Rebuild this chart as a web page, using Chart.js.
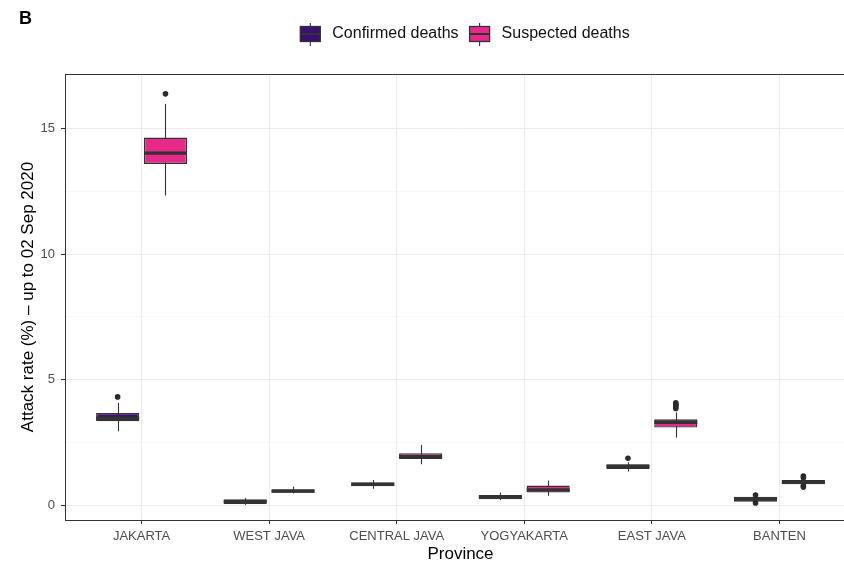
<!DOCTYPE html>
<html>
<head>
<meta charset="utf-8">
<script src="https://cdn.jsdelivr.net/npm/chart.js@4/dist/chart.umd.min.js"></script>
<style>
  html, body { margin: 0; padding: 0; background: #fff; overflow: hidden; width: 844px; height: 562px; }
  #wrap { position: relative; width: 860px; height: 562px; }
</style>
</head>
<body>
<div id="wrap"><canvas id="c" width="860" height="562"></canvas></div>
<script>
// Provinces along the x axis
const PROVINCES = ['JAKARTA', 'WEST JAVA', 'CENTRAL JAVA', 'YOGYAKARTA', 'EAST JAVA', 'BANTEN'];
const SERIES_NAMES = ['Confirmed deaths', 'Suspected deaths'];

// Confirmed deaths: attack-rate box summaries (%)
const CONFIRMED_WHISKER_LOW  = [2.95, 0.02, 0.66, 0.21, 1.35, 0.13];
const CONFIRMED_Q1           = [3.35, 0.06, 0.76, 0.25, 1.45, 0.15];
const CONFIRMED_MEDIAN       = [3.47, 0.15, 0.84, 0.33, 1.55, 0.25];
const CONFIRMED_Q3           = [3.68, 0.25, 0.91, 0.41, 1.64, 0.35];
const CONFIRMED_WHISKER_HIGH = [4.08, 0.29, 1.01, 0.51, 1.72, 0.36];
const CONFIRMED_OUTLIERS     = [[4.32], [], [], [], [1.88], [0.41, 0.10]];

// Suspected deaths: attack-rate box summaries (%)
const SUSPECTED_WHISKER_LOW  = [12.33, 0.48, 1.64, 0.38, 2.70, 0.80];
const SUSPECTED_Q1           = [13.59, 0.50, 1.85, 0.51, 3.10, 0.84];
const SUSPECTED_MEDIAN       = [14.02, 0.57, 1.95, 0.62, 3.31, 0.92];
const SUSPECTED_Q3           = [14.64, 0.64, 2.08, 0.79, 3.43, 1.01];
const SUSPECTED_WHISKER_HIGH = [15.98, 0.75, 2.41, 0.99, 3.70, 1.05];
const SUSPECTED_OUTLIERS     = [[16.38], [], [], [], [4.08, 4.03, 3.98, 3.92, 3.86], [1.17, 1.10, 0.78, 0.73]];

// Axis ticks
const Y_TICKS = [0, 5, 10, 15];
const Y_MINOR = [2.5, 7.5, 12.5];

const CONFIRMED_COLOR = '#3B0F70';
const SUSPECTED_COLOR = '#E7298A';
const INK = '#333333';
const FONT = '"Liberation Sans", Arial, Helvetica, sans-serif';

Chart.defaults.font.family = FONT;

const SUMMARIES = [
  { low: CONFIRMED_WHISKER_LOW, med: CONFIRMED_MEDIAN, high: CONFIRMED_WHISKER_HIGH, out: CONFIRMED_OUTLIERS },
  { low: SUSPECTED_WHISKER_LOW, med: SUSPECTED_MEDIAN, high: SUSPECTED_WHISKER_HIGH, out: SUSPECTED_OUTLIERS }
];

function boxRanges(q1, q3) {
  return PROVINCES.map((p, i) => ({ x: i + 1, y: [q1[i], q3[i]] }));
}

// Legend key: a small box with whisker stubs and a median bar
function drawKey(ctx, cx, cy, fill) {
  ctx.save();
  ctx.strokeStyle = INK;
  ctx.lineWidth = 1.1;
  ctx.beginPath();
  ctx.moveTo(cx, cy - 11); ctx.lineTo(cx, cy + 12);
  ctx.stroke();
  ctx.fillStyle = fill;
  ctx.fillRect(cx - 10, cy - 7.5, 20, 15);
  ctx.lineWidth = 1.3;
  ctx.strokeRect(cx - 10, cy - 7.5, 20, 15);
  ctx.lineWidth = 2;
  ctx.beginPath();
  ctx.moveTo(cx - 10, cy); ctx.lineTo(cx + 10, cy);
  ctx.stroke();
  ctx.restore();
}

const boxParts = {
  id: 'boxParts',
  beforeDatasetsDraw(chart) {
    const y = chart.scales.y;
    const ctx = chart.ctx;
    ctx.save();
    ctx.strokeStyle = INK;
    ctx.lineWidth = 1.1;
    SUMMARIES.forEach((s, d) => {
      chart.getDatasetMeta(d).data.forEach((bar, i) => {
        const x = Math.round(bar.x) + 0.5;
        ctx.beginPath();
        ctx.moveTo(x, y.getPixelForValue(s.low[i]));
        ctx.lineTo(x, y.getPixelForValue(s.high[i]));
        ctx.stroke();
      });
    });
    ctx.restore();
  },
  afterDatasetsDraw(chart) {
    const y = chart.scales.y;
    const ctx = chart.ctx;
    ctx.save();
    SUMMARIES.forEach((s, d) => {
      chart.getDatasetMeta(d).data.forEach((bar, i) => {
        const half = bar.width / 2;
        const py = y.getPixelForValue(s.med[i]);
        ctx.strokeStyle = INK;
        ctx.lineWidth = 3.4;
        ctx.beginPath();
        ctx.moveTo(bar.x - half, py); ctx.lineTo(bar.x + half, py);
        ctx.stroke();
        ctx.fillStyle = '#2a2a2a';
        s.out[i].forEach(v => {
          ctx.beginPath();
          ctx.arc(bar.x, y.getPixelForValue(v), 2.8, 0, Math.PI * 2);
          ctx.fill();
        });
      });
    });
    ctx.restore();
  },
  afterDraw(chart) {
    const ctx = chart.ctx;
    const a = chart.chartArea;
    ctx.save();
    // panel border
    ctx.strokeStyle = INK;
    ctx.lineWidth = 1;
    ctx.strokeRect(Math.round(a.left) + 0.5, Math.round(a.top) + 0.5, Math.round(a.right - a.left), Math.round(a.bottom - a.top));
    // panel tag
    ctx.fillStyle = '#000';
    ctx.font = 'bold 18px ' + FONT;
    ctx.textBaseline = 'middle';
    ctx.textAlign = 'left';
    ctx.fillText('B', 19, 19);
    // legend
    ctx.font = '16px ' + FONT;
    const keyW = 20, gapText = 12, gapItem = 11;
    const w0 = ctx.measureText(SERIES_NAMES[0]).width;
    const w1 = ctx.measureText(SERIES_NAMES[1]).width;
    const total = keyW + gapText + w0 + gapItem + keyW + gapText + w1;
    let x = 465 - total / 2;
    const cy = 34;
    [CONFIRMED_COLOR, SUSPECTED_COLOR].forEach((col, k) => {
      drawKey(ctx, x + keyW / 2, cy, col);
      x += keyW + gapText;
      ctx.fillStyle = '#111';
      ctx.fillText(SERIES_NAMES[k], x, cy);
      x += (k === 0 ? w0 : w1) + gapItem;
    });
    ctx.restore();
  }
};

const boxStyle = {
  borderColor: INK,
  borderWidth: 1.4,
  borderSkipped: false,
  inflateAmount: 0,
  categoryPercentage: 0.75,
  barPercentage: 0.9
};

new Chart(document.getElementById('c'), {
  type: 'bar',
  data: {
    datasets: [
      Object.assign({ label: SERIES_NAMES[0], data: boxRanges(CONFIRMED_Q1, CONFIRMED_Q3), backgroundColor: CONFIRMED_COLOR }, boxStyle),
      Object.assign({ label: SERIES_NAMES[1], data: boxRanges(SUSPECTED_Q1, SUSPECTED_Q3), backgroundColor: SUSPECTED_COLOR }, boxStyle)
    ]
  },
  options: {
    responsive: false,
    animation: false,
    devicePixelRatio: 1,
    layout: { padding: { left: 0, right: 4, top: 74, bottom: 0 } },
    plugins: { legend: { display: false }, tooltip: { enabled: false } },
    scales: {
      x: {
        type: 'linear',
        min: 0.4,
        max: 6.6,
        offset: false,
        afterBuildTicks: s => { s.ticks = PROVINCES.map((p, i) => ({ value: i + 1 })); },
        afterFit: s => { s.height = 42; },
        ticks: {
          autoSkip: false, maxRotation: 0, padding: 5,
          color: '#4D4D4D', font: { size: 13 },
          callback: v => PROVINCES[Math.round(v) - 1]
        },
        grid: { offset: false, color: '#EBEBEB', lineWidth: 1, tickColor: INK, tickLength: 4 },
        border: { display: false },
        title: { display: true, text: 'Province', color: '#000', font: { size: 17 }, padding: { top: 0, bottom: -3 } }
      },
      y: {
        min: -0.58,
        max: 17.17,
        afterBuildTicks: s => {
          s.ticks = Y_TICKS.concat(Y_MINOR).sort((a, b) => a - b).map(v => ({ value: v }));
        },
        afterFit: s => { s.width = 65; },
        ticks: {
          padding: 6, color: '#4D4D4D', font: { size: 13 },
          callback: v => (Y_TICKS.includes(v) ? String(v) : '')
        },
        grid: {
          color: c => (Y_TICKS.includes(c.tick && c.tick.value) ? '#EBEBEB' : '#F3F3F3'),
          lineWidth: c => (Y_TICKS.includes(c.tick && c.tick.value) ? 1 : 0.6),
          tickColor: c => (Y_TICKS.includes(c.tick && c.tick.value) ? INK : 'rgba(0,0,0,0)'),
          tickLength: 4
        },
        border: { display: false },
        title: { display: true, text: 'Attack rate (%) – up to 02 Sep 2020', color: '#000', font: { size: 17 }, padding: { top: 18, bottom: 0 } }
      }
    }
  },
  plugins: [boxParts]
});
</script>
</body>
</html>
